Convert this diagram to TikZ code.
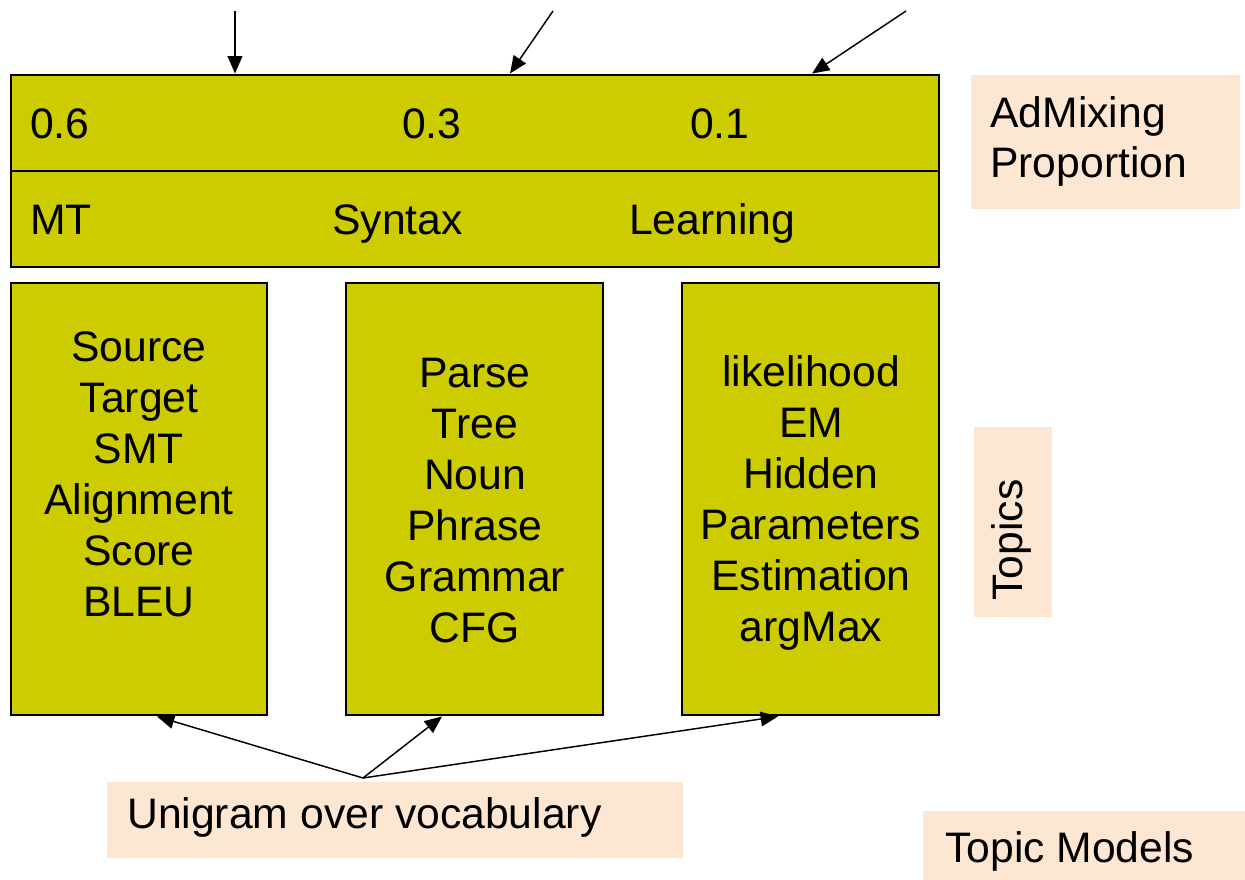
\documentclass[tikz,border=0pt]{standalone}
\usepackage{fontspec}
\setmainfont{Liberation Sans}
\usetikzlibrary{arrows.meta}
\definecolor{boxolive}{RGB}{204,204,0}
\definecolor{peach}{RGB}{253,231,210}
\begin{document}
\begin{tikzpicture}[x=0.75pt,y=-0.75pt,
  ybox/.style={draw=black, line width=2.2pt, fill=boxolive, inner sep=0pt},
  pbox/.style={fill=peach, draw=none, inner sep=0pt},
  big/.style={font=\fontsize{32}{38.25}\selectfont, inner sep=0pt},
  lft/.style={big, anchor=base west},
  arr/.style={line width=1.1pt, -{Triangle[length=13pt,width=11pt]}}
]
\useasboundingbox (0,0) rectangle (1245,880);

% label backgrounds
\node[pbox, minimum width=201.75pt, minimum height=100.5pt] (admixbg) at (1105.5,142) {};
\node[pbox, minimum width=58.5pt, minimum height=142.5pt] (topicsbg) at (1013,522) {};
\node[pbox, minimum width=432pt, minimum height=57pt] (unibg) at (395,820) {};
\node[pbox, minimum width=241.5pt, minimum height=51.75pt] (tmbg) at (1084,845.5) {};

% top mixing box
\node[ybox, minimum width=696pt, minimum height=144pt] (top) at (475,171) {};
\draw[line width=2.2pt] (top.west) -- (top.east);
\node[lft] (p1) at (30,139) {0.6};
\node[lft] (p2) at (402,139) {0.3};
\node[lft] (p3) at (690,139) {0.1};
\node[lft] (n1) at (30,235) {MT};
\node[lft] (n2) at (332,235) {Syntax};
\node[lft] (n3) at (629,235) {Learning};

% topic boxes
\node[ybox, minimum width=192pt, minimum height=324pt] (b1) at (139,499) {};
\node[ybox, minimum width=192.75pt, minimum height=324pt] (b2) at (474.5,499) {};
\node[ybox, minimum width=192.75pt, minimum height=324pt] (b3) at (810.5,499) {};

\node[big, align=center] (w1) at (139,474) {Source\\Target\\SMT\\Alignment\\Score\\BLEU};
\node[big, align=center] (w2) at (475,501) {Parse\\Tree\\Noun\\Phrase\\Grammar\\CFG};
\node[big, align=center] (w3) at (811,503) {likelihood\\EM\\Hidden\\Parameters\\Estimation\\argMax};

% labels
\node[big, anchor=west, align=left, font=\fontsize{32}{37.5}\selectfont] (admix) at (990,141) {AdMixing\\Proportion};
\node[big, rotate=90] (topics) at (1011,540) {Topics};
\node[lft] (uni) at (127,828) {Unigram over vocabulary};
\node[lft] (tm) at (945,862) {Topic Models};

% top arrows
\coordinate (s1) at (235,11);
\coordinate (s2) at (553,11);
\coordinate (s3) at (906,11);
\coordinate (x2) at (510,0);
\coordinate (x3) at (812,0);
\draw[arr] (s1) -- (top.north -| s1);
\draw[arr] (s2) -- (top.north -| x2);
\draw[arr] (s3) -- (top.north -| x3);

% bottom arrows
\coordinate (apex) at (363,778);
\coordinate (y1) at (157,0);
\coordinate (y2) at (442,0);
\coordinate (y3) at (778,0);
\draw[arr] (apex) -- (b1.south -| y1);
\draw[arr] (apex) -- (b2.south -| y2);
\draw[arr] (apex) -- (b3.south -| y3);
\end{tikzpicture}
\end{document}
